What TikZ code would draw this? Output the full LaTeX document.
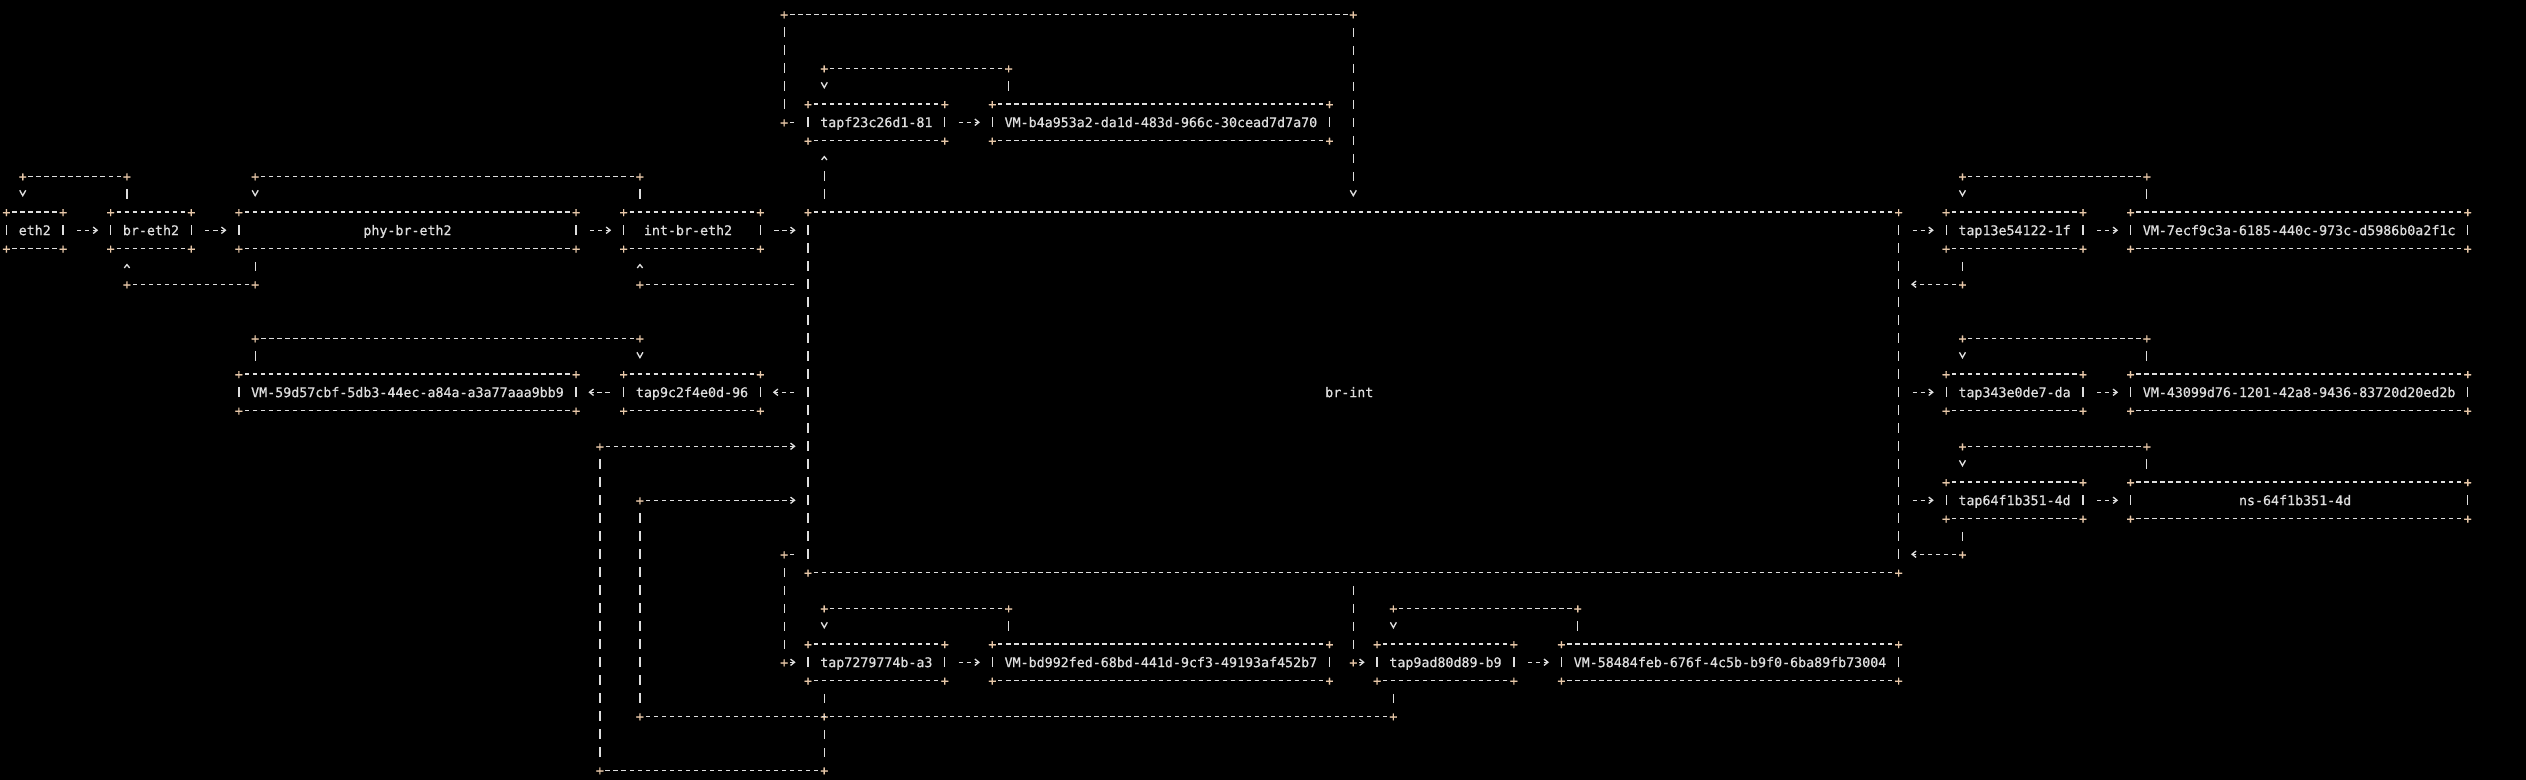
\documentclass[tikz,border=0pt]{standalone}
\usepackage{fontspec}
\newfontfamily\termfont[FakeBold=0.6]{DejaVu Sans Mono}
\usetikzlibrary{arrows.meta,calc}
\definecolor{term}{RGB}{222,222,222}
\definecolor{joint}{RGB}{232,200,168}
\newcommand\cw{6.0115pt}
\newcommand\rh{13.5pt}
\newcommand\pad{\hspace*{6.0115pt}}

\begin{document}
\begin{tikzpicture}[x=6.0115pt, y=-13.5pt,
    every node/.append style={font=\termfont\fontsize{9.985}{12}\selectfont, text=term,
      inner sep=0pt, text height=7.3pt, text depth=0pt},
    box/.style={minimum width=#1*\cw, minimum height=3*\rh},
    plus/.style={minimum width=\cw, minimum height=\rh, text=joint},
    hline/.style={draw=term, line width=1pt, dash pattern=on 3.2pt off 2.8115pt, dash phase=4.60575pt},
    vline/.style={draw=term, line width=1pt, dash pattern=on 7pt off 6.5pt, dash phase=10.25pt},
    tipcell/.style={draw=term, line width=1pt, dash pattern=on 0pt off 40pt},
    rtip/.style={-{Straight Barb[length=3pt,width=4.8pt]}, shorten >=6.3pt},
    dtip/.style={tipcell, -{Straight Barb[length=4pt,width=4.5pt]}, shorten >=4.5pt},
    utip/.style={tipcell, -{Straight Barb[length=2.5pt,width=4pt]}, shorten >=4.5pt},
    flow/.style={hline, rtip, shorten <=\cw}]
  \path[fill=black, use as bounding box] (-5.03pt,10.7pt) rectangle (1889.47pt,-574.3pt);

  \node[box=8] (eth2) at (3.5,12) {eth2};
  \node[box=11] (breth2) at (18,12) {br-eth2};
  \node[box=43] (phybreth2) at (50,12) {phy-br-eth2};
  \node[box=18] (intbreth2) at (85.5,12) {int-br-eth2\pad};
  \node[box=43] (vm59d) at (50,21) {VM-59d57cbf-5db3-44ec-a84a-a3a77aaa9bb9};
  \node[box=18] (tap9c2) at (85.5,21) {tap9c2f4e0d-96};
  \node[box=137, minimum height=21*\rh] (brint) at (168,21) {br-int\pad};
  \node[box=18] (tapf23) at (108.5,6) {tapf23c26d1-81};
  \node[box=43] (vmb4a) at (144,6) {VM-b4a953a2-da1d-483d-966c-30cead7d7a70};
  \node[box=18] (tap727) at (108.5,36) {tap7279774b-a3};
  \node[box=43] (vmbd9) at (144,36) {VM-bd992fed-68bd-441d-9cf3-49193af452b7};
  \node[box=18] (tap9ad) at (179.5,36) {tap9ad80d89-b9};
  \node[box=43] (vm584) at (215,36) {VM-58484feb-676f-4c5b-b9f0-6ba89fb73004};
  \node[box=18] (tap13e) at (250.5,12) {tap13e54122-1f};
  \node[box=43] (vm7ec) at (286,12) {VM-7ecf9c3a-6185-440c-973c-d5986b0a2f1c};
  \node[box=18] (tap343) at (250.5,21) {tap343e0de7-da};
  \node[box=43] (vm430) at (286,21) {VM-43099d76-1201-42a8-9436-83720d20ed2b};
  \node[box=18] (tap64f) at (250.5,27) {tap64f1b351-4d};
  \node[box=43] (ns64f) at (286,27) {ns-64f1b351-4d\pad};

  \foreach \n in {eth2,breth2,phybreth2,intbreth2,vm59d,tap9c2,brint,tapf23,vmb4a,
      tap727,vmbd9,tap9ad,vm584,tap13e,vm7ec,tap343,vm430,tap64f,ns64f} {
    \draw[hline] ($(\n.north west)+(1,.5)$) -- ($(\n.north east)+(-1,.5)$);
    \draw[hline] ($(\n.south west)+(1,-.5)$) -- ($(\n.south east)+(-1,-.5)$);
    \draw[vline] ($(\n.north west)+(.5,1)$) -- ($(\n.south west)+(.5,-1)$);
    \draw[vline] ($(\n.north east)+(-.5,1)$) -- ($(\n.south east)+(-.5,-1)$);
    \foreach \a/\dx/\dy in {north west/.5/.5, north east/-.5/.5, south west/.5/-.5, south east/-.5/-.5}
      \node[plus] at ($(\n.\a)+(\dx,\dy)$) {+};
  }

  \draw[flow] (eth2.east) -- (breth2.west);
  \draw[flow] (breth2.east) -- (phybreth2.west);
  \draw[flow] (phybreth2.east) -- (intbreth2.west);
  \draw[flow] (intbreth2.east) -- (intbreth2.east -| brint.west);
  \draw[flow] (brint.west |- tap9c2.east) -- (tap9c2.east);
  \draw[flow] (tap9c2.west) -- (vm59d.east);
  \draw[flow] (tapf23.east) -- (vmb4a.west);
  \draw[flow] (tap727.east) -- (vmbd9.west);
  \draw[flow] (tap9ad.east) -- (vm584.west);
  \draw[flow] (brint.east |- tap13e.west) -- (tap13e.west);
  \draw[flow] (tap13e.east) -- (vm7ec.west);
  \draw[flow] (brint.east |- tap343.west) -- (tap343.west);
  \draw[flow] (tap343.east) -- (vm430.west);
  \draw[flow] (brint.east |- tap64f.west) -- (tap64f.west);
  \draw[flow] (tap64f.east) -- (ns64f.west);

  \node[plus] (k1) at (15,9) {+};
  \node[plus] (k2) at (2,9) {+};
  \draw[vline] (k1 |- breth2.north) -- (k1);
  \draw[hline] (k1) -- (k2);
  \draw[dtip] (k2) -- (k2 |- eth2.north);

  \node[plus] (k3) at (31,15) {+};
  \node[plus] (k4) at (15,15) {+};
  \draw[vline] (k3 |- phybreth2.south) -- (k3);
  \draw[hline] (k3) -- (k4);
  \draw[utip] (k4) -- (k4 |- breth2.south);

  \node[plus] (k5) at (79,9) {+};
  \node[plus] (k6) at (31,9) {+};
  \draw[vline] (k5 |- intbreth2.north) -- (k5);
  \draw[hline] (k5) -- (k6);
  \draw[dtip] (k6) -- (k6 |- phybreth2.north);

  \node[plus] (k7) at (79,15) {+};
  \draw[hline, shorten <=\cw] (brint.west |- k7) -- (k7);
  \draw[utip] (k7) -- (k7 |- intbreth2.south);

  \node[plus] (k8) at (31,18) {+};
  \node[plus] (k9) at (79,18) {+};
  \draw[vline] (k8 |- vm59d.north) -- (k8);
  \draw[hline] (k8) -- (k9);
  \draw[dtip] (k9) -- (k9 |- tap9c2.north);

  \node[plus] (t1) at (125,3) {+};
  \node[plus] (t2) at (102,3) {+};
  \draw[vline] (t1 |- vmb4a.north) -- (t1);
  \draw[hline] (t1) -- (t2);
  \draw[dtip] (t2) -- (t2 |- tapf23.north);
  \coordinate (t2up) at ($(t2 |- tapf23.south)+(0,1)$);
  \draw[vline] (t2 |- brint.north) -- (t2up);
  \draw[utip] (t2up) -- (t2 |- tapf23.south);

  \node[plus] (t3) at (97,6) {+};
  \node[plus] (t4) at (97,0) {+};
  \node[plus] (t5) at (168,0) {+};
  \coordinate (t5down) at ($(t5 |- brint.north)+(0,-1)$);
  \draw[hline, shorten <=\cw] (tapf23.west) -- (t3);
  \draw[vline] (t3) -- (t4);
  \draw[hline] (t4) -- (t5);
  \draw[vline] (t5) -- (t5down);
  \draw[dtip] (t5down) -- (t5 |- brint.north);

  \node[plus] (b1) at (97,30) {+};
  \node[plus] (b2) at (97,36) {+};
  \draw[hline, shorten <=\cw] (brint.west |- b1) -- (b1);
  \draw[vline] (b1) -- (b2);
  \draw[hline, rtip] (b2) -- (tap727.west);

  \node[plus] (b3) at (168,36) {+};
  \draw[vline] (b3 |- brint.south) -- (b3);
  \draw[hline, rtip] (b3) -- (tap9ad.west);

  \node[plus] (b4) at (125,33) {+};
  \node[plus] (b5) at (102,33) {+};
  \draw[vline] (b4 |- vmbd9.north) -- (b4);
  \draw[hline] (b4) -- (b5);
  \draw[dtip] (b5) -- (b5 |- tap727.north);

  \node[plus] (b6) at (196,33) {+};
  \node[plus] (b7) at (173,33) {+};
  \draw[vline] (b6 |- vm584.north) -- (b6);
  \draw[hline] (b6) -- (b7);
  \draw[dtip] (b7) -- (b7 |- tap9ad.north);

  \node[plus] (b8) at (102,39) {+};
  \node[plus] (b9) at (102,42) {+};
  \node[plus] (b10) at (74,42) {+};
  \node[plus] (b11) at (74,24) {+};
  \draw[vline] (b8 |- tap727.south) -- (b8);
  \draw[vline] (b8) -- (b9);
  \draw[hline] (b9) -- (b10);
  \draw[vline] (b10) -- (b11);
  \draw[hline, rtip] (b11) -- (b11 -| brint.west);

  \node[plus] (b12) at (173,39) {+};
  \node[plus] (b13) at (79,39) {+};
  \node[plus] (b14) at (79,27) {+};
  \draw[vline] (b12 |- tap9ad.south) -- (b12);
  \draw[hline] (b12) -- (b13);
  \draw[vline] (b13) -- (b14);
  \draw[hline, rtip] (b14) -- (b14 -| brint.west);

  \node[plus] (r1) at (267,9) {+};
  \node[plus] (r2) at (244,9) {+};
  \node[plus] (r3) at (244,15) {+};
  \draw[vline] (r1 |- vm7ec.north) -- (r1);
  \draw[hline] (r1) -- (r2);
  \draw[dtip] (r2) -- (r2 |- tap13e.north);
  \draw[vline] (r3 |- tap13e.south) -- (r3);
  \draw[hline, rtip] (r3) -- (r3 -| brint.east);

  \node[plus] (r4) at (267,18) {+};
  \node[plus] (r5) at (244,18) {+};
  \draw[vline] (r4 |- vm430.north) -- (r4);
  \draw[hline] (r4) -- (r5);
  \draw[dtip] (r5) -- (r5 |- tap343.north);

  \node[plus] (r6) at (267,24) {+};
  \node[plus] (r7) at (244,24) {+};
  \node[plus] (r8) at (244,30) {+};
  \draw[vline] (r6 |- ns64f.north) -- (r6);
  \draw[hline] (r6) -- (r7);
  \draw[dtip] (r7) -- (r7 |- tap64f.north);
  \draw[vline] (r8 |- tap64f.south) -- (r8);
  \draw[hline, rtip] (r8) -- (r8 -| brint.east);
\end{tikzpicture}
\end{document}
